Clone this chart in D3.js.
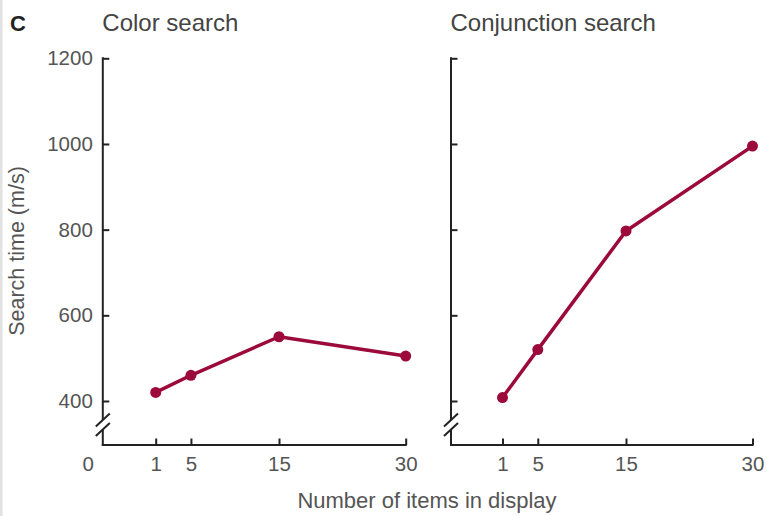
<!DOCTYPE html>
<html>
<head>
<meta charset="utf-8">
<script src="https://cdn.jsdelivr.net/npm/d3@7"></script>
<style>
  html, body { margin: 0; padding: 0; background: #fff; }
  svg { display: block; }
  text { font-family: "Liberation Sans", Arial, sans-serif; }
</style>
</head>
<body>
<script>
// ---- data ----
const panelTitles = ["Color search", "Conjunction search"];
const itemCounts = [1, 5, 15, 30];
const colorSearch = [420, 460, 550, 505];
const conjunctionSearch = [408, 520, 797, 995];
const yTicks = [400, 600, 800, 1000, 1200];
const xTickLabels = ["1", "5", "15", "30"];
const zeroLabel = "0";
const panelLabel = "C";
const yAxisTitle = "Search time (m/s)";
const xAxisTitle = "Number of items in display";

const W = 767, H = 516;
const svg = d3.select("body").append("svg").attr("width", W).attr("height", H);

// left grey border strip
svg.append("rect").attr("x", 0).attr("y", 0).attr("width", 2.5).attr("height", H).attr("fill", "#e2e2e2");

const lineColor = "#9c0a3b";
const axisColor = "#222";
const textColor = "#555";
const tickFont = 20.5;

const y = d3.scaleLinear().domain([400, 1200]).range([401, 58.3]);
const xAxisY = 445;

const panels = [
  { title: panelTitles[0], values: colorSearch, axisX: 102.8, range: [155.7, 279, 405.7], yLabels: true },
  { title: panelTitles[1], values: conjunctionSearch, axisX: 451, range: [502.5, 626, 752.5], yLabels: false }
];

panels.forEach(p => {
  const x = d3.scaleLinear().domain([1, 15, 30]).range(p.range);
  const g = svg.append("g");

  // title
  g.append("text").attr("x", p.axisX - 0.5).attr("y", 31)
    .attr("font-size", 24).attr("fill", "#444").text(p.title);

  // y axis ticks via d3 axis
  const yAxis = d3.axisLeft(y).tickValues(yTicks).tickSize(-6.5).tickSizeOuter(0).tickPadding(10)
    .tickFormat(p.yLabels ? d3.format("d") : () => "");
  const ya = g.append("g").attr("transform", `translate(${p.axisX},0)`).call(yAxis);
  ya.select(".domain").remove();
  ya.selectAll(".tick line").attr("stroke", axisColor).attr("stroke-width", 2);
  ya.selectAll(".tick text").attr("font-size", tickFont).attr("fill", textColor)
    .attr("font-family", "Liberation Sans, Arial, sans-serif");

  // y axis line with break
  const b1 = 420, b2 = 429.5;
  g.append("line").attr("x1", p.axisX).attr("x2", p.axisX).attr("y1", y(1200) - 1).attr("y2", b1)
    .attr("stroke", axisColor).attr("stroke-width", 2);
  g.append("line").attr("x1", p.axisX).attr("x2", p.axisX).attr("y1", b2).attr("y2", xAxisY + 1)
    .attr("stroke", axisColor).attr("stroke-width", 2);
  [b1, b2].forEach(by => {
    g.append("line").attr("x1", p.axisX - 7).attr("y1", by + 6.5)
      .attr("x2", p.axisX + 7).attr("y2", by - 6.5)
      .attr("stroke", axisColor).attr("stroke-width", 2);
  });

  // x axis
  const xAxis = d3.axisBottom(x).tickValues(itemCounts).tickSize(-6.5).tickSizeOuter(0).tickPadding(11)
    .tickFormat((d, i) => xTickLabels[i]);
  const xa = g.append("g").attr("transform", `translate(0,${xAxisY})`).call(xAxis);
  xa.select(".domain").remove();
  xa.selectAll(".tick line").attr("stroke", axisColor).attr("stroke-width", 2);
  xa.selectAll(".tick text").attr("font-size", tickFont).attr("fill", textColor)
    .attr("font-family", "Liberation Sans, Arial, sans-serif");
  g.append("line").attr("x1", p.axisX - 1).attr("x2", x(30) + 1).attr("y1", xAxisY).attr("y2", xAxisY)
    .attr("stroke", axisColor).attr("stroke-width", 2);

  // data line
  const pts = itemCounts.map((c, i) => [x(c), y(p.values[i])]);
  g.append("path").attr("d", d3.line()(pts)).attr("fill", "none")
    .attr("stroke", lineColor).attr("stroke-width", 3.5).attr("stroke-linejoin", "round");
  g.selectAll("circle.pt").data(pts).enter().append("circle").attr("class", "pt")
    .attr("cx", d => d[0]).attr("cy", d => d[1]).attr("r", 5.5).attr("fill", lineColor);

  if (p.yLabels) {
    g.append("text").attr("x", p.axisX - 14.5).attr("y", xAxisY + 11).attr("dy", "0.71em")
      .attr("text-anchor", "middle").attr("font-size", tickFont).attr("fill", textColor).text(zeroLabel);
  }
});

// panel letter
svg.append("text").attr("x", 10).attr("y", 31).attr("font-size", 22).attr("font-weight", "bold")
  .attr("fill", "#222").text(panelLabel);

// y axis title
svg.append("text").attr("transform", "translate(24,251) rotate(-90)").attr("text-anchor", "middle")
  .attr("font-size", 21.5).attr("fill", textColor).text(yAxisTitle);

// x axis title
svg.append("text").attr("x", 427).attr("y", 508).attr("text-anchor", "middle")
  .attr("font-size", 22).attr("fill", textColor).text(xAxisTitle);
</script>
</body>
</html>
